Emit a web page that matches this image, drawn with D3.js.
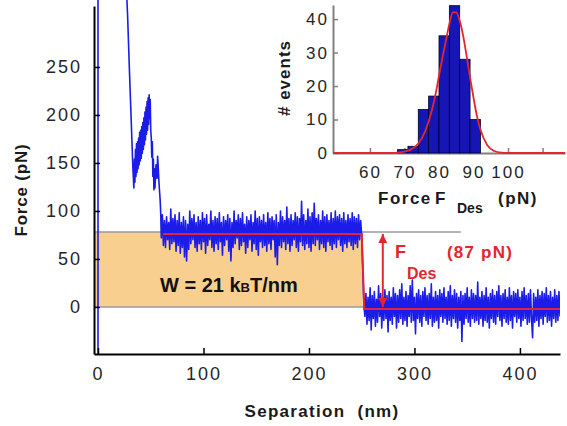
<!DOCTYPE html>
<html>
<head>
<meta charset="utf-8">
<script src="https://cdn.jsdelivr.net/npm/d3@7"></script>
<style>
    body { margin: 0; background: #fff; }
    svg { display: block; font-family: Arial, "Liberation Sans", Helvetica, sans-serif; }
    text { white-space: pre; }
</style>
</head>
<body>
<script>
// ---- data ----
const sepTicks = [0, 100, 200, 300, 400];
const forceTicks = [0, 50, 100, 150, 200, 250];

// approach / unfolding part of the trace [separation nm, force pN]
const approachTrace = [[0, -70], [0, 330], [27, 330], [28, 305], [30, 240], [32, 178], [33, 146], [34, 124],
    [34.5, 154], [35, 130], [35.5, 164], [36, 136], [36.5, 170], [37, 140], [37.5, 172], [38, 144],
    [38.5, 176], [39, 148], [39.5, 182], [40, 152], [40.5, 184], [41, 155], [41.5, 188], [42, 160],
    [42.5, 192], [43, 164], [43.5, 197], [44, 169], [44.5, 203], [45, 174], [45.5, 208], [46, 180],
    [46.5, 214], [47, 184], [47.5, 218], [48, 190], [48.5, 221], [49, 196], [49.5, 216], [50, 184],
    [50.5, 176], [51, 156], [51.5, 172], [52, 136], [52.5, 154], [53, 122], [53.5, 144], [54, 124],
    [55, 148], [56, 134], [56.5, 157], [57, 148], [57.5, 136], [58, 126], [58.5, 118], [59, 110], [59.5, 96]];

// desorption plateau, one reading per nm starting at 60 nm
const plateauStart = 60;
const plateauForce = [
    72, 96, 64, 90, 62, 94, 70, 88, 60, 102,
    66, 92, 68, 96, 58, 90, 64, 98, 56, 88,
    62, 94, 52, 90, 48, 86, 60, 100, 66, 92,
    70, 96, 62, 88, 58, 94, 66, 90, 60, 98,
    68, 92, 56, 96, 64, 86, 70, 100, 62, 90,
    58, 94, 66, 92, 60, 98, 68, 88, 54, 94,
    64, 90, 70, 96, 58, 92, 48, 88, 62, 100,
    66, 90, 72, 96, 60, 92, 64, 98, 68, 86,
    56, 94, 62, 90, 70, 96, 58, 88, 66, 100,
    60, 92, 54, 94, 68, 90, 62, 96, 64, 88,
    58, 98, 66, 92, 60, 94, 70, 90, 52, 96,
    44, 88, 64, 100, 62, 94, 68, 90, 60, 104,
    66, 92, 58, 96, 64, 90, 70, 98, 62, 94,
    58, 92, 68, 110, 64, 96, 60, 90, 66, 102,
    62, 94, 58, 98, 66, 108, 64, 92, 70, 96,
    60, 90, 66, 100, 62, 94, 58, 96, 68, 90,
    64, 98, 60, 92, 66, 100, 62, 94, 70, 96,
    64, 92, 58, 98, 66, 90, 62, 96, 68, 92,
    64, 98, 60, 94, 66, 92, 62, 96, 70, 90, 74];

// after desorption, one reading per nm starting at 251 nm
const detachStart = 251;
const detachForce = [
    40, 4, -10, 14, -18, 10, -14, 20, -24, 12,
    -12, 16, -20, 8, -16, 22, -10, 14, -22, 10,
    -14, 18, -12, 12, -26, 16, -14, 10, -18, 20,
    -10, 14, -22, 12, -16, 18, -12, 24, -18, 10,
    -14, 16, -20, 12, -10, 22, -16, 28, -14, 10,
    -28, 14, -12, 18, -16, 12, -20, 16, -10, 20,
    -14, 12, -18, 14, -12, 24, -20, 10, -16, 16,
    -14, 12, -22, 18, -10, 14, -16, 20, -12, 10,
    -18, 16, -14, 22, -20, 12, -12, 18, -16, 14,
    -22, 10, -14, 16, -36, 12, -18, 14, -12, 20,
    -16, 10, -20, 18, -12, 14, -16, 12, -14, 26,
    -18, 10, -12, 16, -20, 12, -14, 20, -16, 10,
    -22, 14, -12, 18, -16, 12, -18, 16, -10, 22,
    -14, 12, -20, 14, -12, 18, -16, 10, -18, 20,
    -14, 12, -22, 16, -10, 14, -16, 18, -12, 10,
    -20, 16, -14, 20, -12, 12, -18, 14, -16, 18,
    -12, -32, 14, -16, 10, -14, 18, -20, 12, -12,
    16, -18, 14, -10, 20, -16, 12, -14, 16, -20,
    10, -12, 18, -16, 12, -14, 16, -10];

// step fit of the desorption force
const fitSteps = [[61.5, 76], [250, 76], [252.5, -2], [438, -2]];
const workForce = 78;        // upper edge of shaded work area (pN)
const ruptureSep = 251;      // right edge of shaded work area (nm)
const refLineEnd = 344;      // grey reference lines end (nm)
const arrowSep = 270;        // F_Des arrow position (nm)
const arrowForces = [76, 0];

// histogram of desorption forces (inset)
const histBinStart = [68, 71, 74, 77, 80, 83, 86, 89];
const histBinWidth = 3;
const histCounts = [1, 2, 13, 17, 35, 44, 28, 10];
const histXTicks = [60, 70, 80, 90, 100, 110];
const histYTicks = [0, 10, 20, 30, 40];
// gaussian fit [force pN, count]
const gaussFit = [[49.3, 0], [66, 0], [68, 0.1], [70, 0.4], [72, 1.1], [74, 2.8], [76, 6.5], [78, 13],
    [79, 17.5], [80, 23], [81, 28.5], [82, 33.5], [83, 38.5], [84, 42], [85, 42], [86, 39.5], [87, 35],
    [88, 29], [89, 22.5], [90, 16.5], [91, 11], [92, 7], [94, 2.3], [96, 0.6], [98, 0.1], [100, 0], [116.5, 0]];

// ---- drawing ----
const width = 567, height = 426;
const svg = d3.select('body').append('svg')
    .attr('width', width)
    .attr('height', height);

const x = d3.scaleLinear().domain([-3.8, 438]).range([94, 560]);
const y = d3.scaleLinear().domain([-49, 313.5]).range([354, 6]);

const defs = svg.append('defs');
defs.append('clipPath')
    .attr('id', 'plot-clip')
    .append('rect')
    .attr('x', x.range()[0])
    .attr('y', 0)
    .attr('width', x.range()[1] - x.range()[0])
    .attr('height', y.range()[0]);
defs.append('marker')
    .attr('id', 'arrow-head')
    .attr('viewBox', '0 0 10 10')
    .attr('refX', 10)
    .attr('refY', 5)
    .attr('markerUnits', 'userSpaceOnUse')
    .attr('markerWidth', 9)
    .attr('markerHeight', 9)
    .attr('orient', 'auto-start-reverse')
    .append('path')
    .attr('d', 'M0,0 L10,5 L0,10 z')
    .attr('fill', '#e4262c');

const plot = svg.append('g').attr('clip-path', 'url(#plot-clip)');

// shaded work area
plot.append('rect')
    .attr('x', x(x.domain()[0]))
    .attr('y', y(workForce))
    .attr('width', x(ruptureSep) - x(x.domain()[0]))
    .attr('height', y(0) - y(workForce))
    .attr('fill', '#f9cf90');

// grey reference lines
plot.selectAll('.ref')
    .data([workForce, 0])
    .enter()
    .append('line')
    .attr('x1', x(x.domain()[0]))
    .attr('x2', x(refLineEnd))
    .attr('y1', d => y(d))
    .attr('y2', d => y(d))
    .attr('stroke', '#9a9a9a')
    .attr('stroke-width', 1.5);

// force trace
const trace = approachTrace
    .concat(plateauForce.map((f, i) => [plateauStart + i, f]))
    .concat(detachForce.map((f, i) => [detachStart + i, f]));
const line = d3.line().x(d => x(d[0])).y(d => y(d[1]));
plot.append('path')
    .attr('d', line(trace))
    .attr('fill', 'none')
    .attr('stroke', '#1c1ce8')
    .attr('stroke-width', 1.6)
    .attr('stroke-linejoin', 'round');

// step fit
plot.append('path')
    .attr('d', line(fitSteps))
    .attr('fill', 'none')
    .attr('stroke', '#e0243e')
    .attr('stroke-width', 2);

// F_Des arrow
svg.append('line')
    .attr('x1', x(arrowSep))
    .attr('x2', x(arrowSep))
    .attr('y1', y(arrowForces[0]))
    .attr('y2', y(arrowForces[1]))
    .attr('stroke', '#e4262c')
    .attr('stroke-width', 2)
    .attr('marker-start', 'url(#arrow-head)')
    .attr('marker-end', 'url(#arrow-head)');

// main axes
const styleAxis = (g, size, color) => {
    g.select('.domain').attr('stroke', color).attr('stroke-width', 2);
    g.selectAll('.tick line').attr('stroke', color).attr('stroke-width', 1.5);
    g.selectAll('.tick text')
        .attr('fill', '#262626')
        .attr('font-size', size)
        .attr('letter-spacing', '2px');
};
svg.append('g')
    .attr('transform', `translate(${x.range()[0]},0)`)
    .call(d3.axisLeft(y).tickValues(forceTicks).tickSize(-6).tickSizeOuter(0).tickPadding(12))
    .call(g => styleAxis(g, 18, '#000'));
svg.append('g')
    .attr('transform', `translate(0,${y.range()[0]})`)
    .call(d3.axisBottom(x).tickValues(sepTicks).tickSize(-6).tickSizeOuter(0).tickPadding(13))
    .call(g => styleAxis(g, 18, '#000'));

// main labels
svg.append('text')
    .attr('transform', 'translate(27,190) rotate(-90)')
    .attr('text-anchor', 'middle')
    .attr('font-size', 17)
    .attr('font-weight', 'bold')
    .attr('letter-spacing', '0.8px')
    .attr('fill', '#1a1a1a')
    .text('Force (pN)');
svg.append('text')
    .attr('x', 322)
    .attr('y', 417)
    .attr('text-anchor', 'middle')
    .attr('font-size', 17)
    .attr('font-weight', 'bold')
    .attr('letter-spacing', '1.3px')
    .attr('fill', '#1a1a1a')
    .text('Separation  (nm)');

const work = svg.append('text')
    .attr('x', 160)
    .attr('y', 292)
    .attr('font-size', 20)
    .attr('font-weight', 'bold')
    .attr('fill', '#111');
work.append('tspan').text('W = 21 k');
work.append('tspan').attr('font-size', 13).text('B');
work.append('tspan').text('T/nm');

const fdes = svg.append('g')
    .attr('fill', '#e4262c')
    .attr('font-weight', 'bold');
fdes.append('text').attr('x', 395).attr('y', 258).attr('font-size', 18).text('F');
fdes.append('text').attr('x', 407).attr('y', 279).attr('font-size', 16).text('Des');
fdes.append('text').attr('x', 447).attr('y', 258).attr('font-size', 17)
    .attr('letter-spacing', '1.2px').text('(87 pN)');

// ---- inset histogram ----
const hx = d3.scaleLinear().domain([49.3, 116.5]).range([333, 565]);
const hy = d3.scaleLinear().domain([0, 44.2]).range([153, 5]);
const inset = svg.append('g');

inset.append('g')
    .attr('transform', `translate(${hx.range()[0]},0)`)
    .call(d3.axisLeft(hy).tickValues(histYTicks).tickSize(-5).tickSizeOuter(0).tickPadding(4))
    .call(g => styleAxis(g, 17, '#808080'));
inset.append('g')
    .attr('transform', `translate(0,${hy.range()[0]})`)
    .call(d3.axisBottom(hx).tickValues(histXTicks).tickSize(-5).tickSizeOuter(0).tickPadding(13)
        .tickFormat(d => d <= 100 ? d : ''))
    .call(g => styleAxis(g, 17, '#808080'));

inset.selectAll('.bar')
    .data(histCounts)
    .enter()
    .append('rect')
    .attr('class', 'bar')
    .attr('x', (d, i) => hx(histBinStart[i]))
    .attr('width', (d, i) => hx(histBinStart[i] + histBinWidth) - hx(histBinStart[i]))
    .attr('y', d => hy(d))
    .attr('height', d => hy(0) - hy(d))
    .attr('fill', '#1616b6')
    .attr('stroke', '#00002a')
    .attr('stroke-width', 0.8);

inset.append('path')
    .attr('d', d3.line().curve(d3.curveMonotoneX).x(d => hx(d[0])).y(d => hy(d[1]))(gaussFit))
    .attr('fill', 'none')
    .attr('stroke', '#e4262c')
    .attr('stroke-width', 1.8);

inset.append('text')
    .attr('transform', 'translate(290,78) rotate(-90)')
    .attr('text-anchor', 'middle')
    .attr('font-size', 17)
    .attr('font-weight', 'bold')
    .attr('letter-spacing', '1px')
    .attr('fill', '#1a1a1a')
    .text('# events');
const hlab = inset.append('g')
    .attr('font-weight', 'bold')
    .attr('fill', '#1a1a1a');
hlab.append('text').attr('x', 378).attr('y', 204).attr('font-size', 17)
    .attr('letter-spacing', '1.5px').text('Force');
hlab.append('text').attr('x', 435).attr('y', 204).attr('font-size', 17).text('F');
hlab.append('text').attr('x', 457).attr('y', 213).attr('font-size', 14).text('Des');
hlab.append('text').attr('x', 498).attr('y', 204).attr('font-size', 17)
    .attr('letter-spacing', '1.5px').text('(pN)');
</script>
</body>
</html>
